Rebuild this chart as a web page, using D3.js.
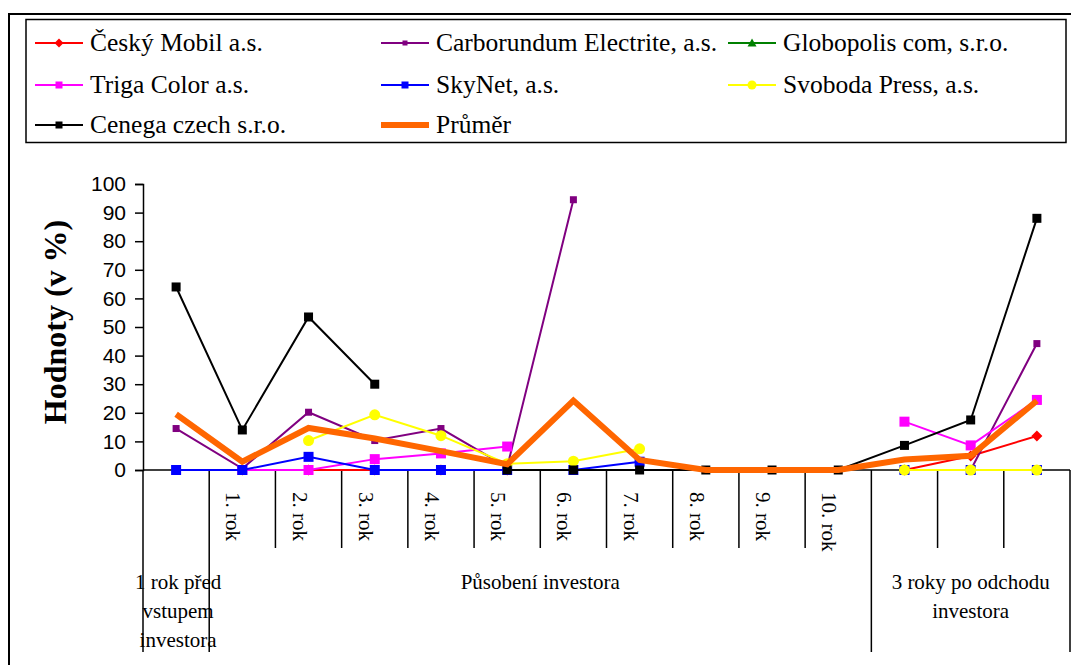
<!DOCTYPE html>
<html>
<head>
<meta charset="utf-8">
<script src="https://cdn.jsdelivr.net/npm/d3@7"></script>
<style>
	body { margin: 0; background: #fff; }
	text { fill: #000; }
</style>
</head>
<body>
<div id="chart"></div>
<script>
// categories (inner labels) and outer groups
const innerLabels = ["", "1. rok", "2. rok", "3. rok", "4. rok", "5. rok", "6. rok", "7. rok", "8. rok", "9. rok", "10. rok", "", "", ""];
const groupLabels = [["1 rok před", "vstupem", "investora"], ["Působení investora"], ["3 roky po odchodu", "investora"]];
const groupStarts = [0, 1, 11];
const groupEnds = [0, 10, 13];

// series values (v %), null = no value
const ceskyMobil = [null, 0, 0, 0, 0, 0, null, null, null, null, null, 0, 4.9, 11.9];
const carborundum = [14.5, 0.5, 20.2, 10.3, 14.5, 1, 94.5, null, null, null, null, null, 0, 44.2];
const globopolis = [null, null, null, null, null, null, null, null, null, null, null, 0, 0, 0];
const trigaColor = [null, 0, 0, 3.8, 5.8, 8.2, null, null, null, null, null, 16.9, 8.6, 24.5];
const skyNet = [0, 0, 4.6, 0, 0, 0, 0, 2.9, null, null, null, 0, 0, 0];
const svoboda = [null, null, 10.3, 19.3, 12, 2.2, 3.1, 7.4, null, null, null, 0, 0, 0];
const cenega = [64, 14, 53.5, 30, null, 0, 0, 0, 0, 0, 0, 8.6, 17.5, 88];
const prumer = [19.5, 2.9, 14.7, 11, 6.6, 2, 24.3, 3.5, 0, 0, 0, 3.7, 5, 24.2];

const yTicks = [0, 10, 20, 30, 40, 50, 60, 70, 80, 90, 100];

const series = [
	{ name: "Český Mobil a.s.", values: ceskyMobil, color: "#ff0000", marker: "diamond", size: 11, lsize: 9 },
	{ name: "Carborundum Electrite, a.s.", values: carborundum, color: "#800080", marker: "square", size: 7, lsize: 5 },
	{ name: "Globopolis com, s.r.o.", values: globopolis, color: "#008000", marker: "triangle", size: 10, lsize: 9 },
	{ name: "Triga Color a.s.", values: trigaColor, color: "#ff00ff", marker: "square", size: 10, lsize: 7 },
	{ name: "SkyNet, a.s.", values: skyNet, color: "#0000ff", marker: "square", size: 10, lsize: 7 },
	{ name: "Svoboda Press, a.s.", values: svoboda, color: "#ffff00", marker: "circle", size: 11, lsize: 9 },
	{ name: "Cenega czech s.r.o.", values: cenega, color: "#000000", marker: "square", size: 9, lsize: 7 },
	{ name: "Průměr", values: prumer, color: "#ff6600", marker: null, width: 6 }
];

const W = 1071, H = 665;
const svg = d3.select("#chart").append("svg").attr("width", W).attr("height", H);
svg.append("rect").attr("width", W).attr("height", H).attr("fill", "#fff");

// outer frame (cut by the picture edge)
svg.append("rect").attr("x", 9).attr("y", 14).attr("width", 1090).attr("height", 700)
	.attr("fill", "none").attr("stroke", "#000").attr("stroke-width", 2);

function marker(g, type, cx, cy, s, color) {
	const h = s / 2;
	if (type === "square") {
		g.append("rect").attr("x", cx - h).attr("y", cy - h).attr("width", s).attr("height", s).attr("fill", color);
	} else if (type === "diamond") {
		g.append("path").attr("d", `M${cx},${cy - h}L${cx + h},${cy}L${cx},${cy + h}L${cx - h},${cy}Z`).attr("fill", color);
	} else if (type === "triangle") {
		g.append("path").attr("d", `M${cx},${cy - h}L${cx + h},${cy + h * 0.8}L${cx - h},${cy + h * 0.8}Z`).attr("fill", color);
	} else if (type === "circle") {
		g.append("circle").attr("cx", cx).attr("cy", cy).attr("r", h).attr("fill", color);
	}
}

// legend
const legend = svg.append("g");
legend.append("rect").attr("x", 26).attr("y", 19.5).attr("width", 1040).attr("height", 123)
	.attr("fill", "none").attr("stroke", "#000").attr("stroke-width", 1.5);
const legCols = [35, 381, 728];
const legRows = [43, 85, 125];
series.forEach((s, i) => {
	const lx = legCols[i % 3], ly = legRows[Math.floor(i / 3)];
	legend.append("line").attr("x1", lx).attr("x2", lx + 48).attr("y1", ly).attr("y2", ly)
		.attr("stroke", s.color).attr("stroke-width", s.width || 2);
	if (s.marker) marker(legend, s.marker, lx + 24, ly, s.lsize, s.color);
	legend.append("text").attr("x", lx + 55).attr("y", ly + 8)
		.style("font-family", "'Liberation Serif', 'Times New Roman', serif").style("font-size", "25.5px")
		.text(s.name);
});

// scales
const x = d3.scaleBand().domain(d3.range(innerLabels.length)).range([143, 1070]);
const y = d3.scaleLinear().domain([0, 100]).range([470, 184]);

// y axis
const yAxis = svg.append("g").attr("transform", "translate(143,0)")
	.call(d3.axisLeft(y).tickValues(yTicks).tickSize(8).tickPadding(9));
yAxis.select(".domain").attr("stroke", "#000").attr("stroke-width", 1.5);
yAxis.selectAll(".tick line").attr("stroke", "#000").attr("stroke-width", 1.5);
yAxis.selectAll("text").style("font-family", "'Liberation Sans', Arial, sans-serif").style("font-size", "21px").attr("fill", "#000");

svg.append("text").attr("transform", "translate(66,322) rotate(-90)").attr("text-anchor", "middle")
	.style("font-family", "'Liberation Serif', 'Times New Roman', serif").style("font-size", "32px").style("font-weight", "bold")
	.text("Hodnoty (v %)");

// x axis with two level category labels
const xg = svg.append("g");
xg.append("line").attr("x1", 143).attr("x2", 1070).attr("y1", 470).attr("y2", 470).attr("stroke", "#000").attr("stroke-width", 1.5);
const bounds = d3.range(innerLabels.length + 1);
const longBounds = [0, 1, 11, 14];
xg.selectAll(".sep").data(bounds).join("line")
	.attr("x1", (d) => 143 + d * x.bandwidth())
	.attr("x2", (d) => 143 + d * x.bandwidth())
	.attr("y1", 470)
	.attr("y2", (d) => (longBounds.includes(d) ? 652 : 548))
	.attr("stroke", "#000").attr("stroke-width", 1.5);

innerLabels.forEach((lab, i) => {
	if (!lab) return;
	xg.append("text").attr("transform", `translate(${x(i) + x.bandwidth() / 2 - 16},492) rotate(90)`)
		.style("font-family", "'Liberation Serif', 'Times New Roman', serif").style("font-size", "21px")
		.text(lab);
});

groupLabels.forEach((lines, gi) => {
	const cx = (x(groupStarts[gi]) + x(groupEnds[gi]) + x.bandwidth()) / 2 + (gi === 0 ? 2 : 0);
	lines.forEach((ln, li) => {
		xg.append("text").attr("x", cx).attr("y", 589 + li * 29).attr("text-anchor", "middle")
			.style("font-family", "'Liberation Serif', 'Times New Roman', serif").style("font-size", "21px")
			.text(ln);
	});
});

// series lines + markers
const line = d3.line()
	.defined((d) => d != null)
	.x((d, i) => x(i) + x.bandwidth() / 2)
	.y((d) => y(d));

series.forEach((s) => {
	const g = svg.append("g");
	g.append("path").datum(s.values).attr("d", line)
		.attr("fill", "none").attr("stroke", s.color).attr("stroke-width", s.width || 2)
		.attr("stroke-linejoin", "miter");
	if (s.marker) {
		s.values.forEach((v, i) => {
			if (v == null) return;
			marker(g, s.marker, x(i) + x.bandwidth() / 2, y(v), s.size, s.color);
		});
	}
});
</script>
</body>
</html>
